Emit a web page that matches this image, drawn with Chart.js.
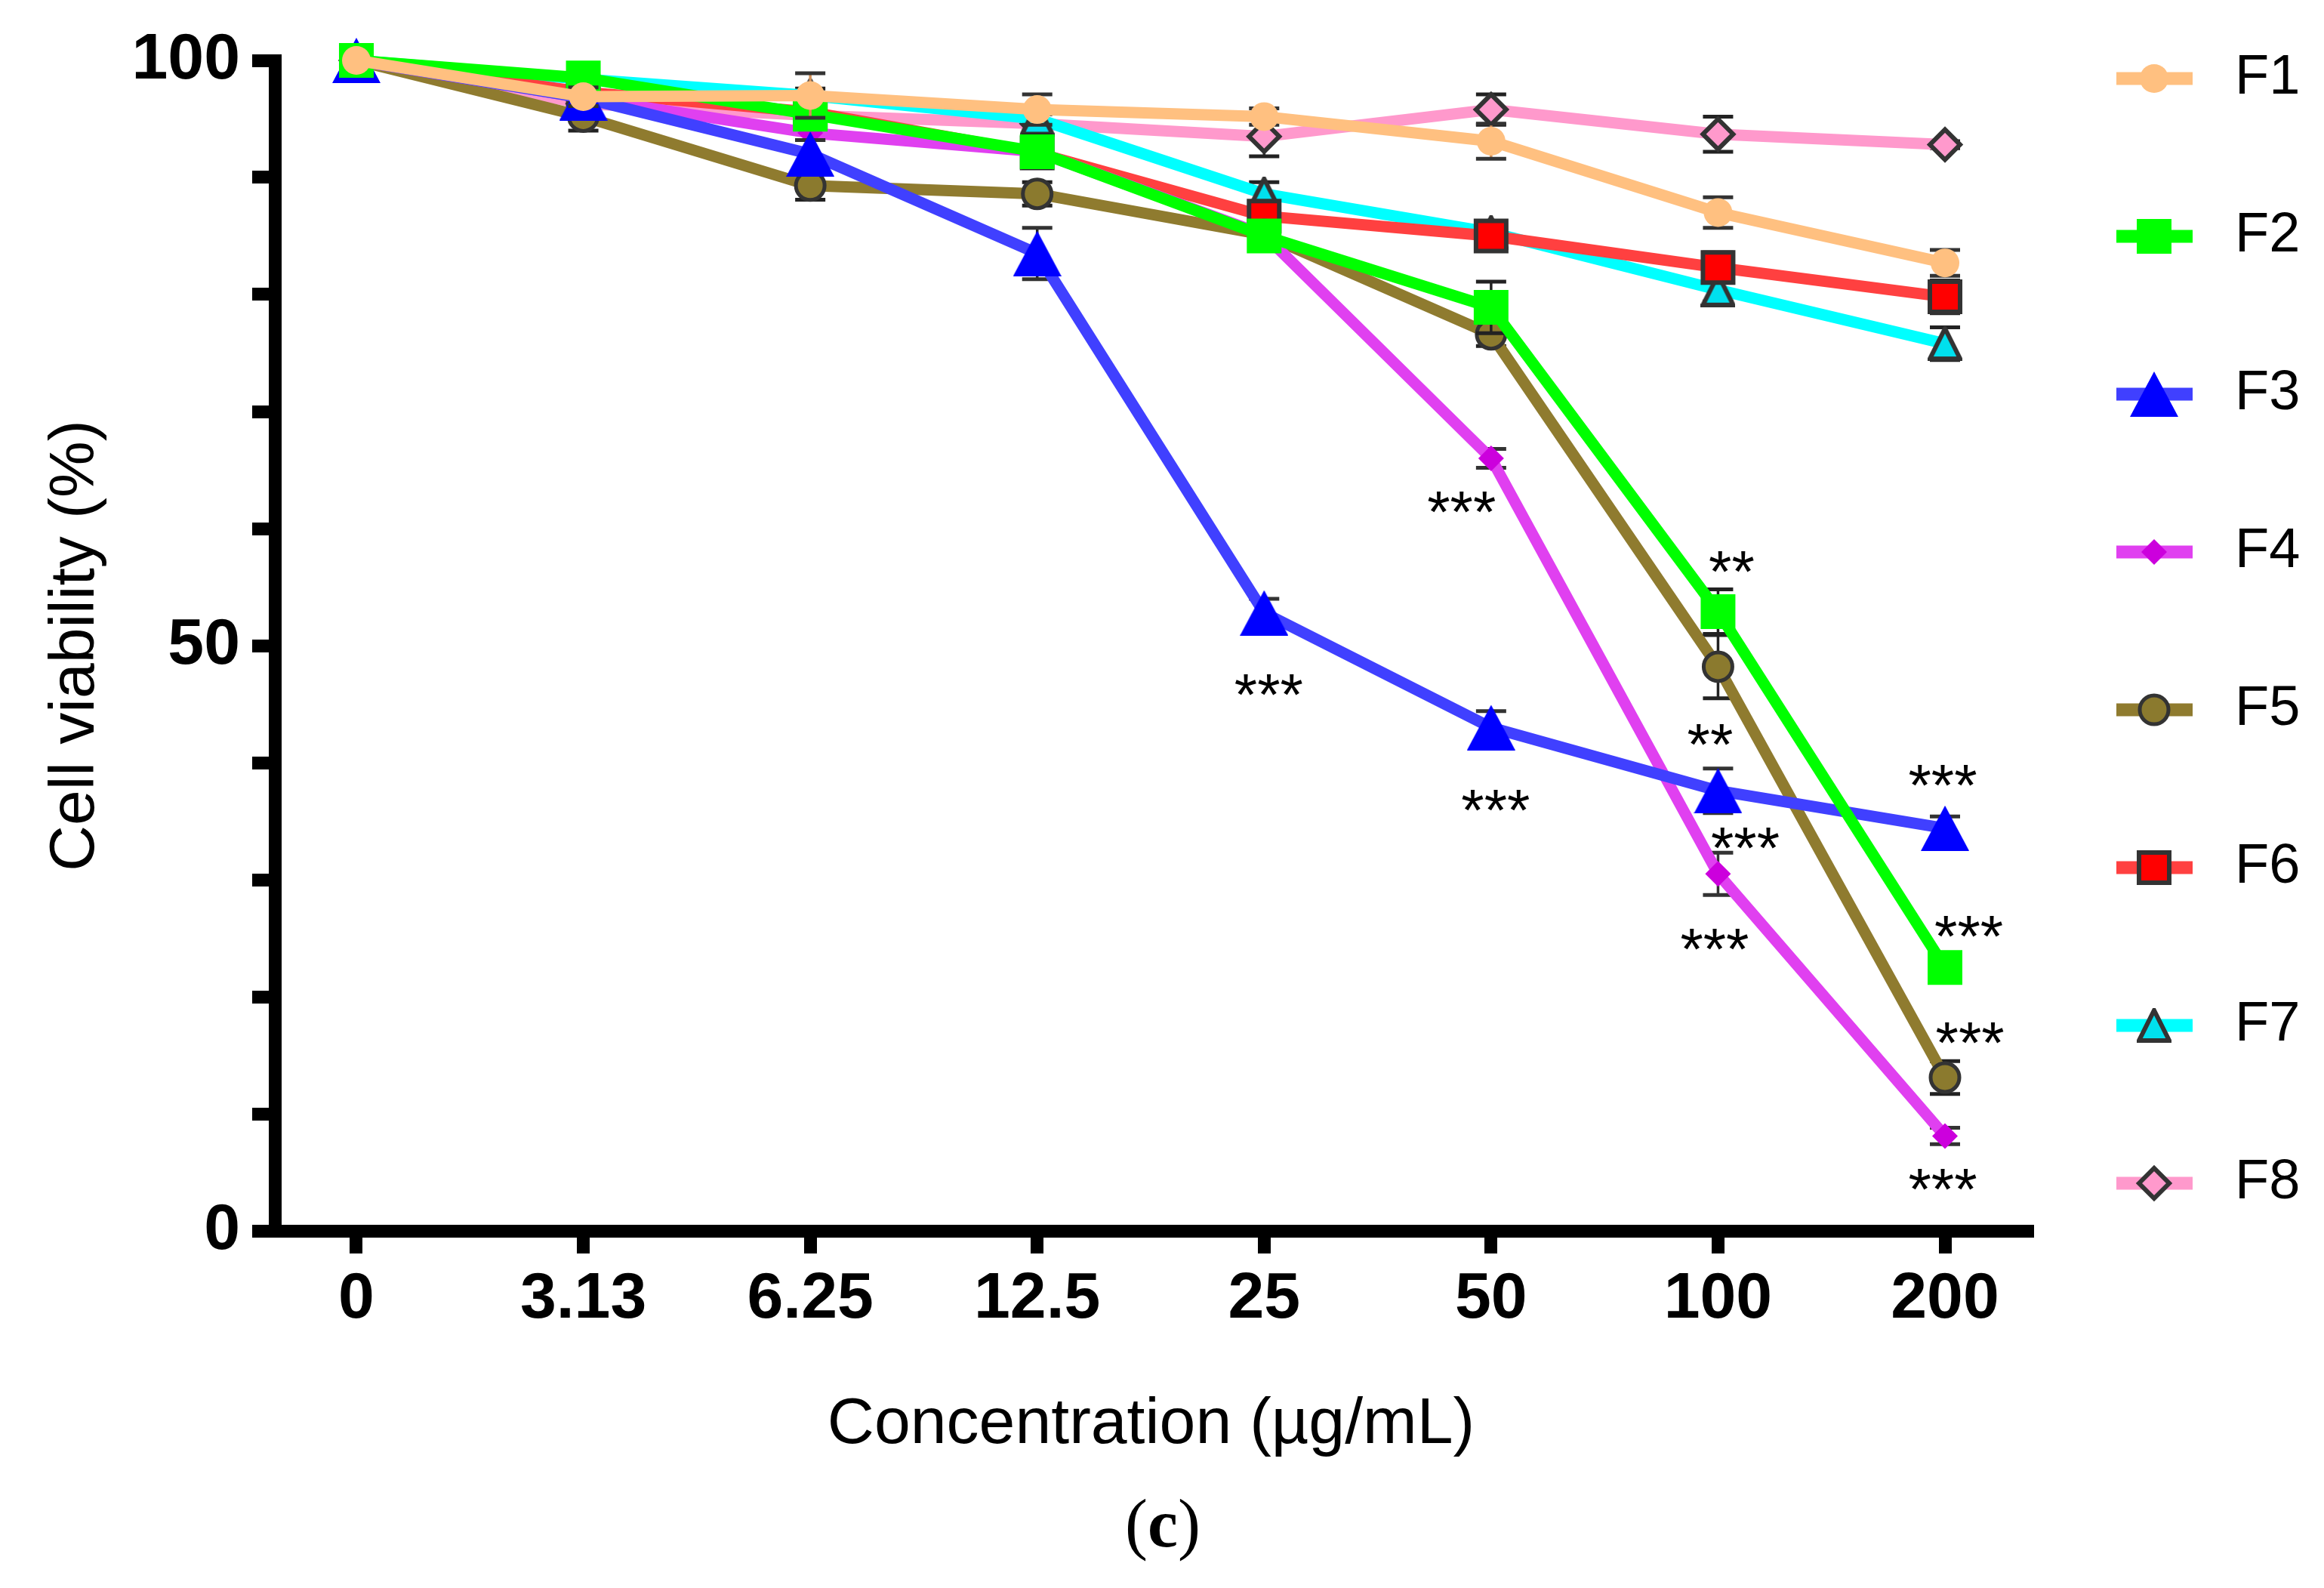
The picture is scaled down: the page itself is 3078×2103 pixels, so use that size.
<!DOCTYPE html>
<html>
<head>
<meta charset="utf-8">
<title>Cell viability</title>
<script src="https://cdn.jsdelivr.net/npm/chart.js@4.4.1/dist/chart.umd.min.js"></script>
<style>
  html, body { margin: 0; padding: 0; background: #fff; }
  #wrap { position: relative; width: 3078px; height: 2103px; overflow: hidden; }
  #chart { position: absolute; left: 0; top: 0; }
  #caption {
    position: absolute; left: 1440px; top: 1973px; width: 200px;
    text-align: center; color: #000;
    font-family: "Liberation Serif", "Times New Roman", serif;
    font-size: 90px; line-height: 90px;
  }
</style>
</head>
<body>
<div id="wrap">
  <canvas id="chart" width="3078" height="2103"></canvas>
  <div id="caption">(<b>c</b>)</div>
</div>
<script>
"use strict";

// concentrations (µg/mL) on the x axis
var categories = ["0", "3.13", "6.25", "12.5", "25", "50", "100", "200"];
var seriesNames = ["F1", "F2", "F3", "F4", "F5", "F6", "F7", "F8"];

// mean cell viability (%)
var f1 = [100, 96.9, 97.0, 95.8, 95.2, 93.1, 87.0, 82.7];
var f2 = [100, 98.5, 95.4, 92.2, 85.0, 78.9, 52.9, 22.5];
var f3 = [100, 96.8, 92.0, 83.5, 52.8, 43.0, 37.6, 34.4];
var f4 = [100, 96.8, 93.8, 92.2, 85.1, 66.0, 30.5, 8.1];
var f5 = [100, 95.2, 89.3, 88.6, 85.1, 76.6, 48.2, 13.1];
var f6 = [100, 97.3, 95.6, 92.1, 86.7, 85.0, 82.3, 79.8];
var f7 = [100, 98.4, 97.0, 95.0, 88.6, 85.3, 80.4, 75.8];
var f8 = [100, 96.3, 95.3, 94.6, 93.5, 95.8, 93.7, 92.8];

// standard deviations
var f1Sd = [0, 0.8, 1.9, 1.3, 0.7, 1.5, 1.3, 1.1];
var f2Sd = [0, 0.8, 0.8, 1.4, 0.8, 2.2, 1.9, 0.8];
var f3Sd = [0, 0.5, 1.2, 2.2, 1.2, 1.4, 1.9, 1.0];
var f4Sd = [0, 0.5, 0.6, 0.6, 0.6, 0.8, 1.8, 0.7];
var f5Sd = [0, 1.2, 1.2, 1.0, 0.8, 1.0, 2.7, 1.4];
var f6Sd = [0, 0.5, 0.6, 0.8, 0.6, 1.0, 1.3, 1.4];
var f7Sd = [0, 0.5, 0.6, 1.0, 1.0, 0.8, 1.0, 1.4];
var f8Sd = [0, 0.6, 0.8, 0.8, 1.7, 1.3, 1.5, 0.3];

// significance marks (x in category index, y in % viability)
var sigX = [4.02, 4.87, 5.02, 6.06, 5.965, 6.12, 5.985, 6.99, 7.105, 7.11, 6.99];
var sigY = [47.0, 62.6, 37.1, 57.5, 42.7, 33.9, 25.2, 39.2, 26.3, 17.2, 4.7];
var sigText = ["***", "***", "***", "**", "**", "***", "***", "***", "***", "***", "***"];

var yTickLabels = [0, 50, 100];
var yStep = 10;

var allValues = [f1, f2, f3, f4, f5, f6, f7, f8];
var allSd = [f1Sd, f2Sd, f3Sd, f4Sd, f5Sd, f6Sd, f7Sd, f8Sd];

function triangleMarker(w, h, fill, edge, bw) {
    var c = document.createElement("canvas");
    c.width = Math.round(w + bw);
    c.height = Math.round(h + bw);
    var g = c.getContext("2d");
    g.beginPath();
    g.moveTo(c.width / 2, bw / 2);
    g.lineTo(c.width - bw / 2, c.height - bw / 2);
    g.lineTo(bw / 2, c.height - bw / 2);
    g.closePath();
    g.fillStyle = fill;
    g.fill();
    if (bw) {
        g.lineWidth = bw;
        g.lineJoin = "miter";
        g.strokeStyle = edge;
        g.stroke();
    }
    return c;
}

var seriesStyle = [
    { line: "#FFC080", fill: "#FFC080", edge: "#FFC080", bw: 0, shape: "circle", r: 19, stem: "#D39058", cap: "#333333" },
    { line: "#00FF00", fill: "#00FF00", edge: "#00FF00", bw: 0, shape: "rect", r: 32.5, stem: "#222222", cap: "#222222" },
    { line: "#4040FF", fill: "#0000FF", edge: "#0000FF", bw: 0, shape: triangleMarker(64, 60, "#0000FF", null, 0), r: 32, stem: "#222222", cap: "#333333" },
    { line: "#E040F0", fill: "#CC00DD", edge: "#CC00DD", bw: 0, shape: "rectRot", r: 17, stem: "#333333", cap: "#333333" },
    { line: "#8F7B2F", fill: "#8B7A2E", edge: "#333333", bw: 5, shape: "circle", r: 19, stem: "#222222", cap: "#222222" },
    { line: "#FF4040", fill: "#FF0000", edge: "#333333", bw: 6, shape: "rect", r: 28.3, stem: "#222222", cap: "#222222" },
    { line: "#00FFFF", fill: "#00E0EE", edge: "#333333", bw: 0, shape: triangleMarker(40, 40, "#00E0EE", "#333333", 6), r: 23, stem: "#222222", cap: "#222222" },
    { line: "#FF99CC", fill: "#FF99CC", edge: "#333333", bw: 6, shape: "rectRot", r: 20, stem: "#222222", cap: "#222222" }
];

var datasets = seriesNames.map(function (name, i) {
    var st = seriesStyle[i];
    return {
        label: name,
        data: allValues[i].map(function (v, j) { return { x: j, y: v }; }),
        sd: allSd[i],
        errStem: st.stem,
        errCap: st.cap,
        borderColor: st.line,
        borderWidth: 15,
        pointStyle: st.shape,
        pointRadius: st.r,
        pointBackgroundColor: st.fill,
        pointBorderColor: st.edge,
        pointBorderWidth: st.bw,
        tension: 0,
        clip: false
    };
});

var errorBars = {
    id: "errorBars",
    beforeDatasetDraw: function (chart, args) {
        var ds = chart.data.datasets[args.index];
        var yScale = chart.scales.y;
        var ctx = chart.ctx;
        ctx.save();
        args.meta.data.forEach(function (pt, j) {
            var sd = ds.sd[j];
            if (!sd) return;
            var v = ds.data[j].y;
            var yTop = yScale.getPixelForValue(v + sd);
            var yBot = yScale.getPixelForValue(v - sd);
            ctx.strokeStyle = ds.errStem;
            ctx.lineWidth = 3.5;
            ctx.beginPath();
            ctx.moveTo(pt.x, yTop);
            ctx.lineTo(pt.x, yBot);
            ctx.stroke();
            ctx.strokeStyle = ds.errCap;
            ctx.lineWidth = 5;
            ctx.beginPath();
            ctx.moveTo(pt.x - 20, yTop);
            ctx.lineTo(pt.x + 20, yTop);
            ctx.moveTo(pt.x - 20, yBot);
            ctx.lineTo(pt.x + 20, yBot);
            ctx.stroke();
        });
        ctx.restore();
    }
};

var sigMarks = {
    id: "sigMarks",
    afterDatasetsDraw: function (chart) {
        var ctx = chart.ctx, xs = chart.scales.x, ys = chart.scales.y;
        ctx.save();
        ctx.fillStyle = "#000";
        ctx.font = '78px "Liberation Sans", Arial, sans-serif';
        ctx.textAlign = "center";
        ctx.textBaseline = "alphabetic";
        sigText.forEach(function (t, k) {
            ctx.fillText(t, xs.getPixelForValue(sigX[k]), ys.getPixelForValue(sigY[k]) + 45);
        });
        ctx.restore();
    }
};

var sideLegend = {
    id: "sideLegend",
    afterDraw: function (chart) {
        var ctx = chart.ctx;
        chart.data.datasets.forEach(function (ds, i) {
            var y = 104 + i * 209;
            ctx.save();
            ctx.strokeStyle = ds.borderColor;
            ctx.lineWidth = 17;
            ctx.beginPath();
            ctx.moveTo(2803, y);
            ctx.lineTo(2904, y);
            ctx.stroke();
            ctx.fillStyle = ds.pointBackgroundColor;
            ctx.strokeStyle = ds.pointBorderColor;
            ctx.lineWidth = ds.pointBorderWidth;
            Chart.helpers.drawPoint(ctx, {
                pointStyle: ds.pointStyle,
                radius: ds.pointRadius,
                rotation: 0,
                borderWidth: ds.pointBorderWidth
            }, 2853, y);
            ctx.fillStyle = "#000";
            ctx.font = '74px "Liberation Sans", Arial, sans-serif';
            ctx.textAlign = "left";
            ctx.textBaseline = "middle";
            ctx.fillText(ds.label, 2960, y);
            ctx.restore();
        });
    }
};

Chart.defaults.font.family = '"Liberation Sans", Arial, sans-serif';
Chart.defaults.color = "#000";

var axisGrid = {
    drawOnChartArea: false,
    drawTicks: true,
    tickLength: 30,
    tickWidth: 17,
    tickColor: "#000",
    lineWidth: 17,
    color: "#000"
};
var axisBorder = { display: true, width: 17, color: "#000" };

new Chart(document.getElementById("chart"), {
    type: "line",
    data: { datasets: datasets },
    options: {
        responsive: false,
        animation: false,
        layout: { padding: { left: 0, top: 80, right: 393, bottom: 0 } },
        plugins: { legend: { display: false }, tooltip: { enabled: false } },
        scales: {
            x: {
                type: "linear",
                bounds: "data",
                min: -0.3593,
                max: 7.3626,
                afterBuildTicks: function (s) {
                    s.ticks = categories.map(function (c, i) { return { value: i }; });
                },
                afterFit: function (s) { s.height = 473; },
                ticks: {
                    autoSkip: false,
                    maxRotation: 0,
                    padding: 10,
                    color: "#000",
                    font: { size: 86, weight: "bold" },
                    callback: function (v) { return categories[v]; }
                },
                grid: axisGrid,
                border: axisBorder,
                title: {
                    display: true,
                    text: "Concentration (µg/mL)",
                    color: "#000",
                    font: { size: 86 },
                    padding: { top: 0, bottom: 164 }
                }
            },
            y: {
                min: 0,
                max: 100,
                afterFit: function (s) { s.width = 364; },
                ticks: {
                    stepSize: yStep,
                    autoSkip: false,
                    padding: 16,
                    color: "#000",
                    font: { size: 86, weight: "bold" },
                    callback: function (v) { return yTickLabels.indexOf(v) >= 0 ? String(v) : ""; }
                },
                grid: axisGrid,
                border: axisBorder,
                title: {
                    display: true,
                    text: "Cell viability (%)",
                    color: "#000",
                    font: { size: 84 },
                    padding: { top: 50, bottom: 0 }
                }
            }
        }
    },
    plugins: [errorBars, sigMarks, sideLegend]
});
</script>
</body>
</html>
